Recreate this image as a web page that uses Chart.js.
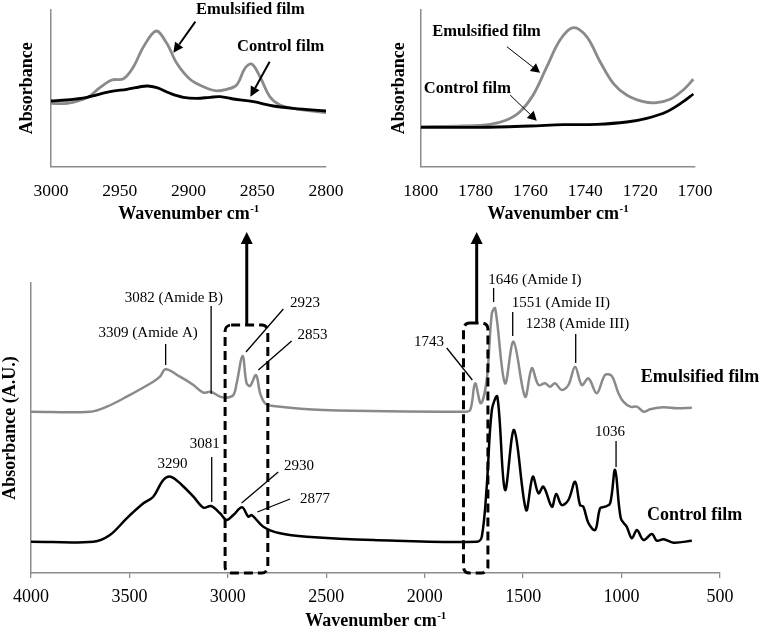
<!DOCTYPE html>
<html><head><meta charset="utf-8">
<script src="https://cdn.jsdelivr.net/npm/chart.js@4.4.0/dist/chart.umd.min.js"></script>
<style>
html,body{margin:0;padding:0;background:#fff;}
body{width:767px;height:633px;position:relative;overflow:hidden;}
.pane{position:absolute;}
canvas{display:block;}
</style></head><body>
<div class="pane" style="left:0;top:220px;width:767px;height:413px"><canvas id="cMain" width="767" height="413" style="width:767px;height:413px"></canvas></div>
<div class="pane" style="left:0;top:0;width:380px;height:232px"><canvas id="c1" width="380" height="232" style="width:380px;height:232px"></canvas></div>
<div class="pane" style="left:380px;top:0;width:387px;height:232px"><canvas id="c2" width="387" height="232" style="width:387px;height:232px"></canvas></div>
<script>
// ---------- DATA ----------
const mainTicks = [4000, 3500, 3000, 2500, 2000, 1500, 1000, 500];
const inset1Ticks = [3000, 2950, 2900, 2850, 2800];
const inset2Ticks = [1800, 1780, 1760, 1740, 1720, 1700];
const seriesNames = ['Emulsified film', 'Control film'];

// Main spectrum – emulsified film (gray)
const emulWn  = [4000,3700,3615,3514,3379,3345,3316,3243,3175,3124,3087,3040,3006,2972,2955,2925,2905,2887,2857,2836,2811,2769,2515,1803,1769,1744,1715,1685,1659,1642,1592,1549,1490,1456,1422,1388,1363,1338,1304,1270,1236,1202,1168,1126,1084,1050,1016,991,956,922,888,855,787,719,643];
const emulAbs = [161.3,161.3,166.3,176.3,191.3,196.3,203.7,196.3,188,180.3,181.3,176.3,175.3,178,190,217,190,187,198,179.7,169.7,167,163,161.3,163,189.7,169.7,193,259.7,264.7,189.7,231.3,176.3,204.7,188,189.7,186.3,189.7,183,188,206.3,188,194.7,179.7,198,197,179.7,171.3,166.3,166.3,161.3,163.7,165.7,164.7,165.3];
// Main spectrum – control film (black)
const ctrlWn  = [4000,3683,3599,3514,3429,3379,3328,3290,3234,3175,3124,3085,3040,3006,2972,2928,2896,2879,2820,2735,2599,2261,1735,1710,1685,1659,1631,1592,1546,1485,1451,1422,1397,1354,1332,1304,1270,1236,1211,1194,1168,1134,1109,1084,1058,1033,1004,974,948,922,889,846,821,787,736,643];
const ctrlAbs = [31.3,31.3,38,54.7,69.7,76.3,93,96.3,88,76.3,65.3,67,59.7,53,58,65.7,56.3,58,46.3,39.7,36.3,33,31.3,36.3,86.3,163,176.3,83,143,63,96.3,79.7,86.3,66.3,79,68,73,91.3,68,66.3,49.7,43,64.7,66.3,69.7,103,54.7,46.3,34.7,43,33,39,32.3,33.7,30.3,32.3];

// Inset 1 (3000–2800)
const in1EmulWn  = [3000,2988.4,2973.9,2964.2,2955.7,2947.3,2940,2932.7,2923.5,2915.8,2908.5,2898.9,2889.2,2880.7,2872.2,2865,2858.9,2854,2848,2840.8,2833.5,2823.8,2800];
const in1EmulAbs = [63.4,63.4,69,79.4,86.7,88,100,120,135.7,123.4,103.4,87.4,80,76,77.4,81.7,98.4,102.7,90,70,61.7,58.4,54];
const in1CtrlWn  = [3000,2988.4,2973.9,2957,2944.8,2930.3,2923,2913.4,2903.7,2894,2884.4,2877,2867.4,2852.8,2838.3,2823.8,2800];
const in1CtrlAbs = [65.7,66.7,69.4,75,77.4,80.7,79,73.4,69.4,68.4,69.4,70,67.7,65,60.7,58.4,55.7];

// Inset 2 (1800–1700)
const in2EmulWn  = [1800,1784.5,1774.7,1768.7,1763.8,1759,1754,1749.2,1744.4,1739.5,1734.6,1729.8,1724.9,1718.8,1714,1709.1,1704.3,1700.6];
const in2EmulAbs = [40,40.7,42.4,46.7,55,71.7,100,126.7,139,130,105,83.4,71.7,65,64,67.4,76.7,87.4];
const in2CtrlWn  = [1800,1778.4,1760.2,1748,1735.8,1724.9,1717.6,1710.3,1704.3,1700.6];
const in2CtrlAbs = [39.4,39.4,40.7,42,42.4,44.7,48.4,55,65,72.7];

// ---------- STYLE / HELPERS ----------
const FF = "'Liberation Serif','Times New Roman',serif";
const GRAY = '#8a8a8a';
const AXIS = '#8c8c8c';

function pts(xs, ys){ return xs.map((x,i)=>({x:x, y:ys[i]})); }

function drawArrow(ctx, x1, y1, x2, y2, w, hl, hw){
  const a = Math.atan2(y2-y1, x2-x1);
  const bx = x2 - hl*Math.cos(a), by = y2 - hl*Math.sin(a);
  ctx.lineWidth = w; ctx.setLineDash([]);
  ctx.beginPath(); ctx.moveTo(x1,y1); ctx.lineTo(bx,by); ctx.stroke();
  ctx.beginPath();
  ctx.moveTo(x2,y2);
  ctx.lineTo(bx + hw*Math.sin(a), by - hw*Math.cos(a));
  ctx.lineTo(bx - hw*Math.sin(a), by + hw*Math.cos(a));
  ctx.closePath(); ctx.fill();
}

function drawXTitle(ctx, cx, cy){
  const main = 'Wavenumber cm', sup = '-1';
  ctx.font = 'bold 18px ' + FF; const w1 = ctx.measureText(main).width;
  ctx.font = 'bold 11px ' + FF; const w2 = ctx.measureText(sup).width;
  const x0 = cx - (w1 + w2)/2;
  ctx.textAlign = 'left'; ctx.textBaseline = 'alphabetic';
  ctx.font = 'bold 18px ' + FF; ctx.fillText(main, x0, cy + 6);
  ctx.font = 'bold 11px ' + FF; ctx.fillText(sup, x0 + w1 + 0.5, cy - 1);
}

function makePlugin(cfg){
  return {
    id: 'fig_' + Math.random().toString(36).slice(2),
    afterDraw(chart){
      const ctx = chart.ctx, xs = chart.scales.x, ys = chart.scales.y, ca = chart.chartArea;
      const X = v => xs.getPixelForValue(v), Y = v => ys.getPixelForValue(v);
      ctx.save();
      ctx.fillStyle = '#000'; ctx.strokeStyle = '#000';
      (cfg.boxes||[]).forEach(b => {
        const x1 = X(b.x1), x2 = X(b.x2), y1 = Y(b.y1), y2 = Y(b.y2);
        ctx.lineWidth = 3; ctx.setLineDash([9,5]);
        ctx.beginPath();
        ctx.roundRect(Math.min(x1,x2), Math.min(y1,y2), Math.abs(x2-x1), Math.abs(y2-y1), 6);
        ctx.stroke();
      });
      ctx.setLineDash([]);
      (cfg.lines||[]).forEach(l => {
        ctx.lineWidth = 1.3;
        ctx.beginPath(); ctx.moveTo(X(l[0]), Y(l[1])); ctx.lineTo(X(l[2]), Y(l[3])); ctx.stroke();
      });
      (cfg.arrows||[]).forEach(a => {
        drawArrow(ctx, X(a.p[0]), Y(a.p[1]), X(a.p[2]), Y(a.p[3]), a.w, a.hl, a.hw);
      });
      (cfg.texts||[]).forEach(t => {
        ctx.font = t.font; ctx.textAlign = 'center'; ctx.textBaseline = 'middle';
        ctx.fillText(t.t, X(t.x), Y(t.y));
      });
      // axis titles
      drawXTitle(ctx, (ca.left + ca.right)/2, ca.bottom + cfg.xTitleOff);
      ctx.save();
      ctx.translate(ca.left - cfg.yTitleOff, (ca.top + ca.bottom)/2);
      ctx.rotate(-Math.PI/2);
      ctx.font = 'bold 18px ' + FF; ctx.textAlign = 'center'; ctx.textBaseline = 'middle';
      ctx.fillText(cfg.yTitle, 0, 0);
      ctx.restore();
      ctx.restore();
    }
  };
}

function makeChart(id, o){
  return new Chart(document.getElementById(id), {
    type: 'line',
    data: { datasets: [
      { label: seriesNames[1], data: pts(o.cw, o.ca), borderColor: '#000', borderWidth: o.lw, tension: 0.35, pointRadius: 0, fill: false },
      { label: seriesNames[0], data: pts(o.ew, o.ea), borderColor: GRAY, borderWidth: o.lw, tension: 0.35, pointRadius: 0, fill: false }
    ]},
    options: {
      responsive: false, animation: false, devicePixelRatio: 1,
      layout: { padding: o.pad },
      plugins: { legend: { display: false }, tooltip: { enabled: false } },
      scales: {
        x: {
          type: 'linear', reverse: true, min: o.xmin, max: o.xmax,
          afterBuildTicks: s => { s.ticks = o.ticks.map(v => ({value: v})); },
          afterFit: s => { s.height = o.xh; },
          ticks: { font: { family: FF, size: o.tickSize }, color: '#000', padding: o.tickPad, maxRotation: 0, autoSkip: false,
                   callback: v => String(v) },
          grid: { display: true, drawOnChartArea: false, drawTicks: o.drawTicks, tickLength: 5, color: AXIS, lineWidth: 1.3 },
          border: { display: true, color: AXIS, width: 1.5 }
        },
        y: {
          min: 0, max: o.ymax,
          afterFit: s => { s.width = 0; },
          ticks: { display: false },
          grid: { display: false },
          border: { display: true, color: AXIS, width: 1.5 }
        }
      }
    },
    plugins: [makePlugin(o.fig)]
  });
}

// Main chart
makeChart('cMain', {
  cw: ctrlWn, ca: ctrlAbs, ew: emulWn, ea: emulAbs, lw: 2.5,
  xmin: 500, xmax: 4000, ymax: 290, ticks: mainTicks, tickSize: 18, tickPad: 8, drawTicks: true,
  xh: 40, pad: { left: 31, top: 63, right: 47, bottom: 20 },
  fig: {
    xTitleOff: 47, yTitleOff: 21, yTitle: 'Absorbance (A.U.)',
    boxes: [ {x1: 3014, x2: 2797, y1: 248, y2: 0}, {x1: 1803, x2: 1679, y1: 250, y2: 0} ],
    arrows: [ {p: [2904, 248, 2904, 341], w: 3, hl: 12, hw: 6}, {p: [1736, 250, 1736, 341], w: 3, hl: 12, hw: 6} ],
    lines: [
      [3316,229,3316,208], [3085,267,3085,179], [2718,264,2908,221], [2676,232,2845,203],
      [1888,225,1758,193], [1650,285,1650,271], [1553,261,1553,237], [1233,239,1233,210],
      [1028,132,1028,106], [3082,116,3082,71], [2744,101,2930,70], [2684,74,2850,61]
    ],
    texts: [
      {t: '3309 (Amide A)', x: 3405, y: 240, font: '15px ' + FF},
      {t: '3082 (Amide B)', x: 3274, y: 275, font: '15px ' + FF},
      {t: '2923', x: 2608, y: 270, font: '15px ' + FF},
      {t: '2853', x: 2570, y: 238, font: '15px ' + FF},
      {t: '1743', x: 1978, y: 231, font: '15px ' + FF},
      {t: '1646 (Amide I)', x: 1440, y: 293, font: '15px ' + FF},
      {t: '1551 (Amide II)', x: 1308, y: 270, font: '15px ' + FF},
      {t: '1238 (Amide III)', x: 1224, y: 249, font: '15px ' + FF},
      {t: '1036', x: 1059, y: 141, font: '15px ' + FF},
      {t: '3290', x: 3281, y: 109, font: '15px ' + FF},
      {t: '3081', x: 3118, y: 129, font: '15px ' + FF},
      {t: '2930', x: 2639, y: 107, font: '15px ' + FF},
      {t: '2877', x: 2557, y: 74, font: '15px ' + FF},
      {t: seriesNames[0], x: 601, y: 196, font: 'bold 18px ' + FF},
      {t: seriesNames[1], x: 629, y: 58, font: 'bold 18px ' + FF}
    ]
  }
});

// Inset 1
makeChart('c1', {
  cw: in1CtrlWn, ca: in1CtrlAbs, ew: in1EmulWn, ea: in1EmulAbs, lw: 2.8,
  xmin: 2800, xmax: 3000, ymax: 156.7, ticks: inset1Ticks, tickSize: 17.5, tickPad: 14, drawTicks: false,
  xh: 30, pad: { left: 51, top: 10, right: 54, bottom: 35.3 },
  fig: {
    xTitleOff: 46.3, yTitleOff: 24, yTitle: 'Absorbance',
    arrows: [ {p: [2895, 145, 2911, 114], w: 2, hl: 10, hw: 5}, {p: [2841, 105, 2855, 70], w: 2, hl: 10, hw: 5} ],
    texts: [
      {t: seriesNames[0], x: 2855, y: 156.7, font: 'bold 16.5px ' + FF},
      {t: seriesNames[1], x: 2833, y: 120, font: 'bold 16.5px ' + FF}
    ]
  }
});

// Inset 2
makeChart('c2', {
  cw: in2CtrlWn, ca: in2CtrlAbs, ew: in2EmulWn, ea: in2EmulAbs, lw: 2.8,
  xmin: 1700, xmax: 1800, ymax: 156.7, ticks: inset2Ticks, tickSize: 17.5, tickPad: 14, drawTicks: false,
  xh: 30, pad: { left: 40.7, top: 10, right: 72, bottom: 35.3 },
  fig: {
    xTitleOff: 46.3, yTitleOff: 21.4, yTitle: 'Absorbance',
    arrows: [ {p: [1768.6, 120, 1756.5, 94], w: 1, hl: 9, hw: 5}, {p: [1767.4, 71.7, 1757.7, 46], w: 1, hl: 9, hw: 5} ],
    texts: [
      {t: seriesNames[0], x: 1776, y: 135, font: 'bold 16.5px ' + FF},
      {t: seriesNames[1], x: 1783, y: 78.4, font: 'bold 16.5px ' + FF}
    ]
  }
});
</script>
</body></html>
